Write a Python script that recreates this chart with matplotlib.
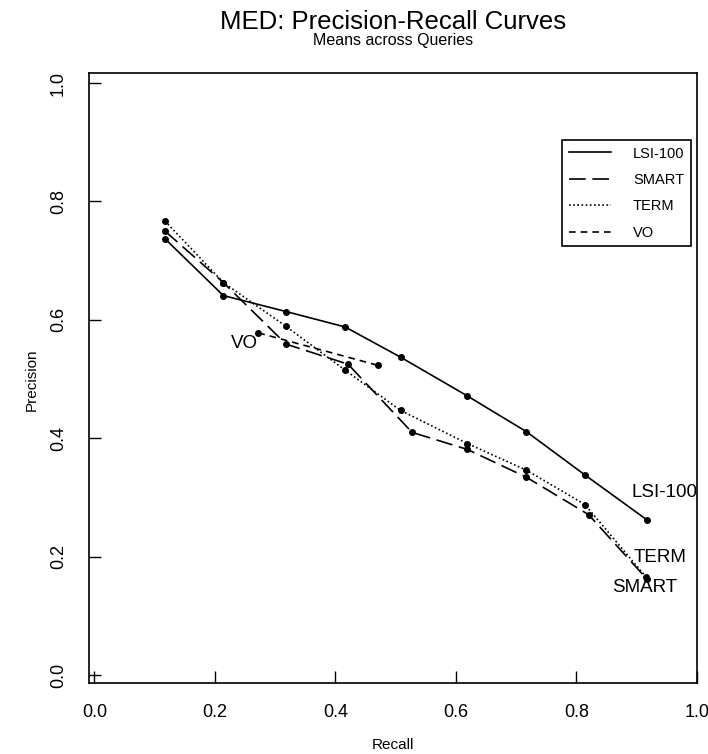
import matplotlib
matplotlib.use("Agg")
import matplotlib.pyplot as plt

plt.rcParams['font.family'] = ['Liberation Sans', 'DejaVu Sans']

# Data
lsi_recall = [0.117, 0.214, 0.318, 0.416, 0.508, 0.618, 0.717, 0.814, 0.917]
lsi_prec = [0.737, 0.641, 0.614, 0.588, 0.537, 0.472, 0.411, 0.338, 0.262]

smart_recall = [0.117, 0.214, 0.318, 0.421, 0.527, 0.619, 0.717, 0.820, 0.917]
smart_prec = [0.750, 0.663, 0.559, 0.525, 0.410, 0.381, 0.334, 0.271, 0.162]

term_recall = [0.117, 0.214, 0.318, 0.416, 0.508, 0.619, 0.717, 0.814, 0.915]
term_prec = [0.767, 0.663, 0.589, 0.515, 0.447, 0.391, 0.346, 0.288, 0.166]

vo_recall = [0.272, 0.471]
vo_prec = [0.578, 0.523]

series_names = ["LSI-100", "SMART", "TERM", "VO"]
xticks = [0.0, 0.2, 0.4, 0.6, 0.8, 1.0]
yticks = [0.0, 0.2, 0.4, 0.6, 0.8, 1.0]

fig = plt.figure(figsize=(7.08, 7.54), dpi=100)
ax = fig.add_axes([89/708, 1-683/754, (697-89)/708, (683-73)/754])

kw = dict(color='black', lw=1.2, marker='o', ms=4)
ax.plot(lsi_recall, lsi_prec, ls='-', **kw)
ax.plot(smart_recall, smart_prec, dashes=(10, 4), **kw)
ax.plot(term_recall, term_prec, ls=(0, (1, 1.5)), **kw)
ax.plot(vo_recall, vo_prec, dashes=(4, 3), **kw)

ax.text(0.892, 0.308, "LSI-100", fontsize=13.5, ha='left', va='center')
ax.text(0.895, 0.198, "TERM", fontsize=13.5, ha='left', va='center')
ax.text(0.859, 0.147, "SMART", fontsize=13.5, ha='left', va='center')
ax.text(0.272, 0.560, "VO", fontsize=13.5, ha='right', va='center')

ax.set_xlim(-0.009, 1.0)
ax.set_ylim(-0.0135, 1.017)
ax.set_xticks(xticks)
ax.set_yticks(yticks)
ax.set_xticklabels([f"{t:.1f}" for t in xticks], fontsize=13)
ax.set_yticklabels([f"{t:.1f}" for t in yticks], fontsize=13, rotation=90, va='center')
ax.tick_params(axis='both', direction='in', length=8.5, width=1.0)
ax.tick_params(axis='x', pad=15)
ax.tick_params(axis='y', pad=16)
for s in ax.spines.values():
    s.set_linewidth(1.2)

fig.text(393/708, 1-745/754, "Recall", fontsize=11, ha='center', va='center')
fig.text(32/708, 1-380/754, "Precision", fontsize=11, ha='center', va='center', rotation=90)
fig.text(393/708, 1-22/754, "MED: Precision-Recall Curves", fontsize=18.5, ha='center', va='center')
fig.text(393/708, 1-41/754, "Means across Queries", fontsize=11.5, ha='center', va='center')

h1, = ax.plot([], [], color='black', lw=1.2, ls='-')
h2, = ax.plot([], [], color='black', lw=1.2, dashes=(10, 4))
h3, = ax.plot([], [], color='black', lw=1.2, ls=(0, (1, 1.5)))
h4, = ax.plot([], [], color='black', lw=1.2, dashes=(4, 3))
leg = ax.legend([h1, h2, h3, h4], series_names, loc='upper right',
                bbox_to_anchor=(691/708, 1-140/754), bbox_transform=fig.transFigure,
                fontsize=10.5, frameon=True, fancybox=False, framealpha=1,
                edgecolor='black', handlelength=2.9, handletextpad=1.5,
                labelspacing=0.85, borderpad=0.45, borderaxespad=0)
leg.get_frame().set_linewidth(1.2)

fig.savefig("out.png", dpi=100)
